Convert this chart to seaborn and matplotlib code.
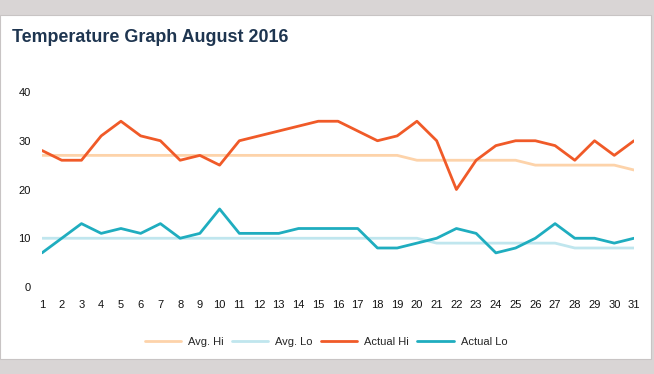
import seaborn as sns
import matplotlib.pyplot as plt
import matplotlib.patches as mpatches
import pandas as pd

days = list(range(1, 32))
avg_hi = [27] * 19 + [26] * 6 + [25] * 5 + [24]
avg_lo = [10] * 20 + [9] * 7 + [8] * 4
actual_hi = [28, 26, 26, 31, 34, 31, 30, 26, 27, 25, 30, 31, 32, 33, 34, 34,
             32, 30, 31, 34, 30, 20, 26, 29, 30, 30, 29, 26, 30, 27, 30]
actual_lo = [7, 10, 13, 11, 12, 11, 13, 10, 11, 16, 11, 11, 11, 12, 12, 12,
             12, 8, 8, 9, 10, 12, 11, 7, 8, 10, 13, 10, 10, 9, 10]

series = ['Avg. Hi', 'Avg. Lo', 'Actual Hi', 'Actual Lo']
colors = {'Avg. Hi': '#fdd3aa', 'Avg. Lo': '#c0e6ee',
          'Actual Hi': '#f05a28', 'Actual Lo': '#1fadbf'}

frames = []
for name, vals in zip(series, [avg_hi, avg_lo, actual_hi, actual_lo]):
    frames.append(pd.DataFrame({'day': days, 'temp': vals, 'series': name}))
data = pd.concat(frames, ignore_index=True)

sns.set_style('white')
plt.rcParams['font.family'] = ['Liberation Sans', 'DejaVu Sans']

W, H = 654, 374
fig = plt.figure(figsize=(W / 100, H / 100), dpi=100, facecolor='#d9d5d5')
fig.patches.append(mpatches.Rectangle((0, 1 - 359 / H), 651 / W, 344 / H,
                                      transform=fig.transFigure,
                                      facecolor='white', edgecolor='#c8c4c4',
                                      linewidth=0.8, zorder=-5))

ax = fig.add_axes([42 / W, 1 - 287 / H, 592 / W, 195 / H])
ax.set_facecolor('none')
sns.lineplot(data=data, x='day', y='temp', hue='series', hue_order=series,
             palette=colors, linewidth=2, ax=ax, legend=True)

ax.set_xlim(1, 31)
ax.set_ylim(0, 40)
ax.set_xticks(days)
ax.set_yticks([0, 10, 20, 30, 40])
ax.tick_params(axis='both', length=0, labelsize=8, colors='#111111')
ax.tick_params(axis='x', pad=9)
ax.tick_params(axis='y', pad=8)
for s in ax.spines.values():
    s.set_visible(False)
ax.set_xlabel('')
ax.set_ylabel('')

ax.legend(loc='center', bbox_to_anchor=(326 / W, 1 - 342 / H),
          bbox_transform=fig.transFigure, ncol=4, frameon=False,
          fontsize=8, handlelength=3.25, columnspacing=0.75, handletextpad=0.65)

fig.text(12 / W, 1 - 37 / H, 'Temperature Graph August 2016',
         fontsize=12.9, fontweight='bold', color='#1e3550', va='center')

fig.savefig('out.png', dpi=100, facecolor=fig.get_facecolor())
